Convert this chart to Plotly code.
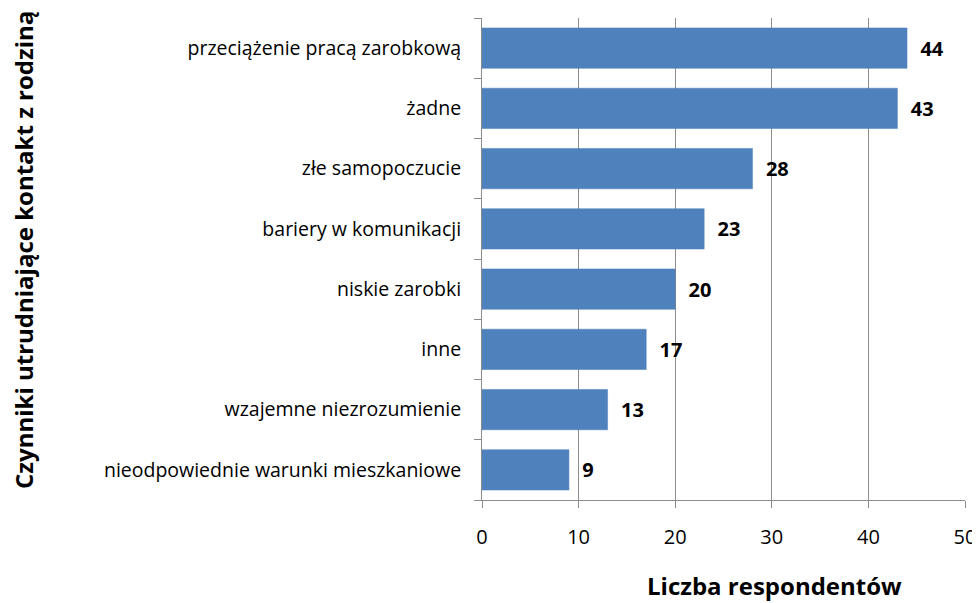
import plotly.graph_objects as go

categories = ['nieodpowiednie warunki mieszkaniowe', 'wzajemne niezrozumienie', 'inne',
              'niskie zarobki', 'bariery w komunikacji', 'złe samopoczucie', 'żadne',
              'przeciążenie pracą zarobkową']
values = [9, 13, 17, 20, 23, 28, 43, 44]

font = 'Open Sans, Liberation Sans, sans-serif'

# page body has an 8px margin, so the figure is drawn shifted by 8px
OFF = 8
L, R, T, B = 482 - OFF, 965 - OFF, 18 - OFF, 500 - OFF

fig = go.Figure(go.Bar(
    x=values, y=categories, orientation='h',
    marker=dict(color='#4F81BD', line=dict(color='#4A7EBB', width=0.5)),
    texttemplate='\u00a0\u00a0%{x}', textposition='outside', cliponaxis=False,
    textfont=dict(family=font, size=20, color='black', weight='bold'),
))

fig.update_layout(
    width=980, height=603,
    margin=dict(l=L, r=980 - R, t=T, b=603 - B),
    plot_bgcolor='white', paper_bgcolor='white',
    bargap=0.33, showlegend=False,
    font=dict(family=font, color='black'),
)
fig.update_xaxes(range=[0, 50], dtick=10, showgrid=True, gridcolor='#8c8c8c', gridwidth=1,
                 showline=True, linecolor='#8c8c8c', ticks='outside', ticklen=7,
                 tickcolor='#8c8c8c', tickfont=dict(size=20), zeroline=False,
                 ticklabelstandoff=12)
fig.update_yaxes(showline=True, linecolor='#8c8c8c', ticks='outside', ticklen=7,
                 tickcolor='#8c8c8c', tickson='boundaries', tickfont=dict(size=19.5),
                 ticklabelstandoff=16)


def px_to_paper(x, y):
    return (x - OFF - L) / (R - L), (B - (y - OFF)) / (B - T)


x0, y0 = px_to_paper(774, 585)
fig.add_annotation(text='<b>Liczba respondentów</b>', x=x0, y=y0, xref='paper', yref='paper',
                   xanchor='center', yanchor='middle', showarrow=False, font=dict(size=24))
x1, y1 = px_to_paper(24, 250)
fig.add_annotation(text='<b>Czynniki utrudniające kontakt z rodziną</b>', x=x1, y=y1,
                   xref='paper', yref='paper', xanchor='center', yanchor='middle',
                   showarrow=False, textangle=-90, font=dict(size=24))

fig.write_html('out.html')
